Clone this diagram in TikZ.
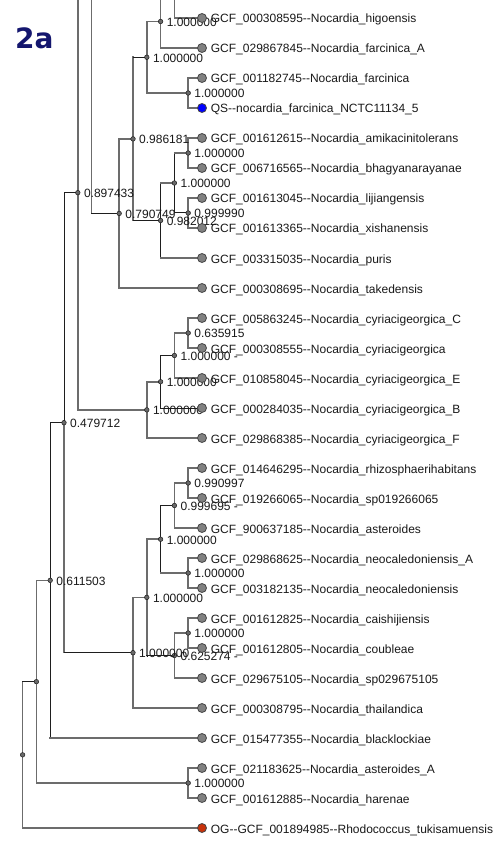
\documentclass[tikz,border=0pt]{standalone}
\usepackage{fontspec}
\setmainfont{Liberation Sans}[Ligatures=TeXOff]
\newfontfamily\titlefont{DejaVu Sans}
\usetikzlibrary{calc}
\definecolor{linegrey}{RGB}{108,108,108}
\definecolor{lineblack}{RGB}{30,30,30}
\definecolor{dotgrey}{RGB}{128,128,128}
\definecolor{dotedge}{RGB}{70,70,70}
\definecolor{innerfill}{RGB}{105,105,105}
\definecolor{qsblue}{RGB}{0,0,255}
\definecolor{ogred}{RGB}{200,50,10}
\definecolor{titleblue}{RGB}{20,22,110}
\definecolor{txtcol}{RGB}{25,25,25}
\newcommand\treeconn[4]{\draw[#1] (#3) -- (#3 |- #4); \draw[#2] (#3 |- #4) -- (#4);}
\begin{document}
\begin{tikzpicture}[x=1pt,y=-1pt,
  gline/.style={draw=linegrey, line width=1.6pt, line cap=rect},
  kline/.style={draw=lineblack, line width=1pt, line cap=rect},
  leafdot/.style={circle, fill=dotgrey, draw=dotedge, line width=0.8pt, minimum size=9pt, inner sep=0pt},
  innerdot/.style={circle, fill=innerfill, draw=lineblack, line width=0.5pt, minimum size=4.6pt, inner sep=0pt},
  supp/.style={anchor=base west, inner sep=0pt, text=txtcol, font=\fontsize{12}{14}\selectfont},
  leaflab/.style={anchor=base west, inner sep=0pt, text=txtcol, font=\fontsize{12}{14}\selectfont}]
\useasboundingbox (0,0) rectangle (493,850);
\fill[white] (0,0) rectangle (493,850);
\clip (0,0) rectangle (493,850);

% leaf positions
\foreach \i in {0,...,27} { \coordinate (l\i) at (202,18+30*\i); }

% internal nodes
\coordinate (t1) at (188.2,-28);
\coordinate (t2) at (174.4,-5);
\coordinate (A3) at (160.6,21.5);
\coordinate (A1) at (188.2,93);
\coordinate (A4) at (146.8,57.25);
\coordinate (B1) at (188.2,153);
\coordinate (B1b) at (188.2,213);
\coordinate (B2) at (174.4,183);
\coordinate (B3) at (160.6,220.5);
\coordinate (A5) at (133,138.875);
\coordinate (N6) at (119.2,213.44);
\coordinate (N8top) at (105.4,-262.4);
\coordinate (N8) at (91.6,-24.5);
\coordinate (C1) at (188.2,333);
\coordinate (C2) at (174.4,355.5);
\coordinate (C3) at (160.6,381.75);
\coordinate (C4) at (146.8,409.875);
\coordinate (N9) at (77.8,192.69);
\coordinate (D1) at (188.2,483);
\coordinate (D2) at (174.4,505.5);
\coordinate (D1b) at (188.2,573);
\coordinate (D3) at (160.6,539.25);
\coordinate (E1) at (188.2,633);
\coordinate (E2) at (174.4,655.5);
\coordinate (D4) at (146.8,597.375);
\coordinate (D5) at (133,652.69);
\coordinate (N10) at (64,422.69);
\coordinate (N11) at (50.2,580.34);
\coordinate (F1) at (188.2,783);
\coordinate (N12) at (36.4,681.67);
\coordinate (R) at (22.6,754.84);

% connectors
\treeconn{gline}{kline}{R}{N12}
\treeconn{gline}{gline}{R}{l27}
\treeconn{gline}{gline}{N12}{N11}
\treeconn{gline}{gline}{N12}{F1}
\treeconn{gline}{gline}{F1}{l25}
\treeconn{gline}{gline}{F1}{l26}
\treeconn{kline}{kline}{N11}{N10}
\treeconn{kline}{gline}{N11}{l24}
\treeconn{kline}{kline}{N10}{N9}
\treeconn{gline}{kline}{N10}{D5}
\treeconn{gline}{gline}{D5}{D4}
\treeconn{gline}{gline}{D5}{l23}
\treeconn{gline}{gline}{D4}{D3}
\treeconn{gline}{kline}{D4}{E2}
\treeconn{kline}{kline}{D3}{D2}
\treeconn{kline}{gline}{D3}{D1b}
\treeconn{gline}{gline}{D2}{D1}
\treeconn{gline}{gline}{D2}{l17}
\treeconn{gline}{gline}{D1}{l15}
\treeconn{gline}{gline}{D1}{l16}
\treeconn{gline}{gline}{D1b}{l18}
\treeconn{gline}{gline}{D1b}{l19}
\treeconn{gline}{gline}{E2}{E1}
\treeconn{gline}{gline}{E2}{l22}
\treeconn{gline}{gline}{E1}{l20}
\treeconn{gline}{gline}{E1}{l21}
\treeconn{gline}{gline}{N9}{N8}
\treeconn{gline}{gline}{N9}{C4}
\treeconn{gline}{gline}{C4}{C3}
\treeconn{gline}{gline}{C4}{l14}
\treeconn{kline}{kline}{C3}{C2}
\treeconn{kline}{kline}{C3}{l13}
\treeconn{gline}{gline}{C2}{C1}
\treeconn{gline}{gline}{C2}{l12}
\treeconn{gline}{gline}{C1}{l10}
\treeconn{gline}{gline}{C1}{l11}
\treeconn{gline}{gline}{N8}{N8top}
\treeconn{gline}{kline}{N8}{N6}
\treeconn{gline}{gline}{N6}{A5}
\treeconn{gline}{gline}{N6}{l9}
\treeconn{gline}{kline}{A5}{A4}
\treeconn{gline}{kline}{A5}{B3}
\treeconn{gline}{gline}{A4}{A3}
\treeconn{gline}{gline}{A4}{A1}
\treeconn{gline}{gline}{A3}{t2}
\treeconn{gline}{gline}{A3}{l1}
\treeconn{gline}{gline}{t2}{t1}
\treeconn{gline}{gline}{t2}{l0}
\treeconn{gline}{gline}{A1}{l2}
\treeconn{gline}{gline}{A1}{l3}
\treeconn{kline}{gline}{B3}{B2}
\treeconn{kline}{gline}{B3}{l8}
\treeconn{kline}{gline}{B2}{B1}
\treeconn{kline}{kline}{B2}{B1b}
\treeconn{gline}{gline}{B1}{l4}
\treeconn{gline}{gline}{B1}{l5}
\treeconn{gline}{gline}{B1b}{l6}
\treeconn{gline}{gline}{B1b}{l7}

% internal markers
\foreach \n in {t1,t2,A3,A1,A4,B1,B1b,B2,B3,A5,N6,N8,C1,C2,C3,C4,N9,D1,D2,D1b,D3,E1,E2,D4,D5,N10,N11,F1,N12,R}
  { \node[innerdot] (m\n) at (\n) {}; }

% support values
\foreach \n/\v in {t2/1.000000, A3/1.000000, A1/1.000000, A4/1.000000, B1/1.000000,
  B1b/0.999990, B2/1.000000, B3/0.982012, A5/0.986181, N6/0.790749, N9/0.897433,
  C1/0.635915, C2/{1.000000 -}, C3/1.000000, C4/1.000000, D1/0.990997, D2/{0.999695 -},
  D1b/1.000000, D3/1.000000, E1/1.000000, E2/{0.625274 -}, D4/1.000000, D5/1.000000,
  N10/0.479712, N11/0.611503, F1/1.000000}
  { \node[supp] (s\n) at ($(\n)+(6,4.8)$) {\v}; }

% leaves
\foreach \i/\t in {
  0/{GCF\_000308595--Nocardia\_higoensis},
  1/{GCF\_029867845--Nocardia\_farcinica\_A},
  2/{GCF\_001182745--Nocardia\_farcinica},
  4/{GCF\_001612615--Nocardia\_amikacinitolerans},
  5/{GCF\_006716565--Nocardia\_bhagyanarayanae},
  6/{GCF\_001613045--Nocardia\_lijiangensis},
  7/{GCF\_001613365--Nocardia\_xishanensis},
  8/{GCF\_003315035--Nocardia\_puris},
  9/{GCF\_000308695--Nocardia\_takedensis},
  10/{GCF\_005863245--Nocardia\_cyriacigeorgica\_C},
  11/{GCF\_000308555--Nocardia\_cyriacigeorgica},
  12/{GCF\_010858045--Nocardia\_cyriacigeorgica\_E},
  13/{GCF\_000284035--Nocardia\_cyriacigeorgica\_B},
  14/{GCF\_029868385--Nocardia\_cyriacigeorgica\_F},
  15/{GCF\_014646295--Nocardia\_rhizosphaerihabitans},
  16/{GCF\_019266065--Nocardia\_sp019266065},
  17/{GCF\_900637185--Nocardia\_asteroides},
  18/{GCF\_029868625--Nocardia\_neocaledoniensis\_A},
  19/{GCF\_003182135--Nocardia\_neocaledoniensis},
  20/{GCF\_001612825--Nocardia\_caishijiensis},
  21/{GCF\_001612805--Nocardia\_coubleae},
  22/{GCF\_029675105--Nocardia\_sp029675105},
  23/{GCF\_000308795--Nocardia\_thailandica},
  24/{GCF\_015477355--Nocardia\_blacklockiae},
  25/{GCF\_021183625--Nocardia\_asteroides\_A},
  26/{GCF\_001612885--Nocardia\_harenae}}
  { \node[leafdot] (c\i) at (l\i) {};
    \node[leaflab] (n\i) at ($(l\i)+(8.7,5)$) {\t}; }
\node[leafdot, fill=qsblue] (c3) at (l3) {};
\node[leaflab] (n3) at ($(l3)+(8.7,5)$) {QS--nocardia\_farcinica\_NCTC11134\_5};
\node[leafdot, fill=ogred] (c27) at (l27) {};
\node[leaflab] (n27) at ($(l27)+(8.7,5)$) {OG--GCF\_001894985--Rhodococcus\_tukisamuensis};

% panel label
\node[anchor=base west, inner sep=0pt, text=titleblue, font={\titlefont\bfseries\fontsize{28}{30}\selectfont}] (title) at (15,49) {2a};
\end{tikzpicture}
\end{document}
